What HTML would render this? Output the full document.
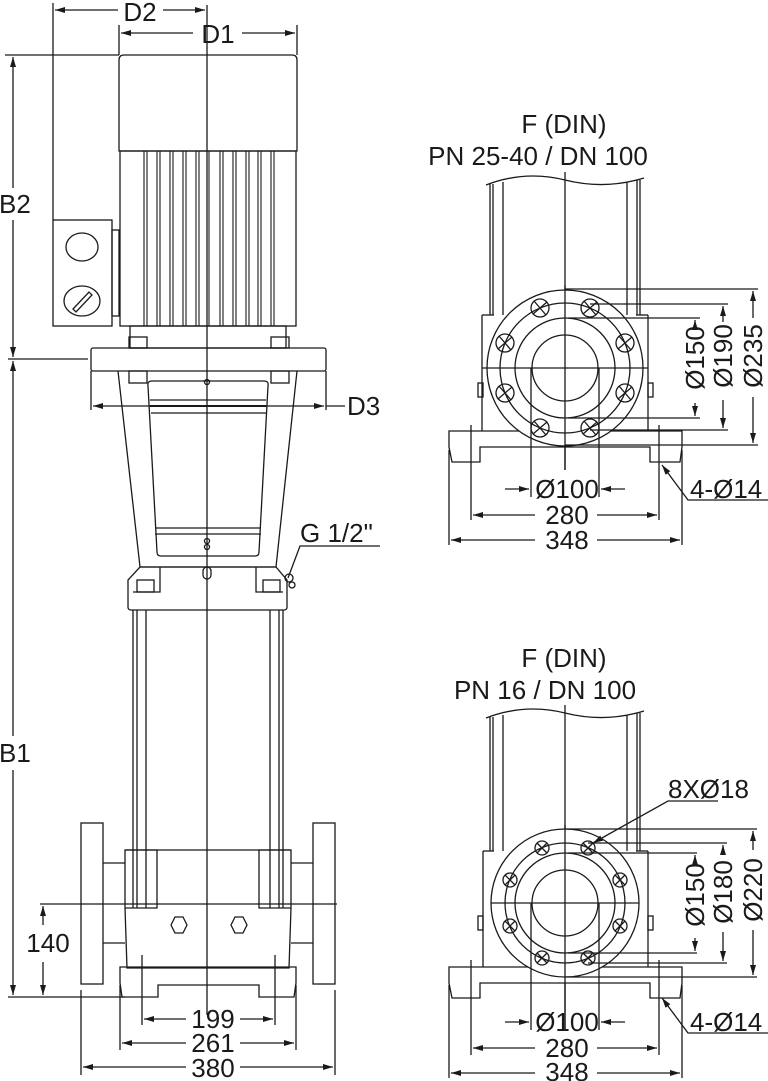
<!DOCTYPE html>
<html><head><meta charset="utf-8"><style>
html,body{margin:0;padding:0;background:#fff;}
svg{display:block;}
text{font-family:"Liberation Sans",sans-serif;fill:#1a1a1a;}
</style></head><body>
<svg width="768" height="1081" viewBox="0 0 768 1081" xmlns="http://www.w3.org/2000/svg">
<defs>
<marker id="a" viewBox="0 0 10 6" refX="10" refY="3" markerWidth="10" markerHeight="6" orient="auto-start-reverse" markerUnits="userSpaceOnUse"><path d="M0,0 L10,3 L0,6z" fill="#1a1a1a"/></marker>
</defs>
<g fill="none" stroke="#1a1a1a" stroke-width="1.3">
<line x1="207" y1="5" x2="207" y2="1015"/>
<line x1="53" y1="3" x2="53" y2="220"/>
<line x1="55" y1="10" x2="118" y2="10" marker-start="url(#a)"/>
<line x1="163" y1="10" x2="205" y2="10" marker-end="url(#a)"/>
<line x1="119" y1="25" x2="119" y2="55"/>
<line x1="297" y1="25" x2="297" y2="55"/>
<line x1="121" y1="33" x2="193" y2="33" marker-start="url(#a)"/>
<line x1="242" y1="33" x2="295" y2="33" marker-end="url(#a)"/>
<line x1="5" y1="55" x2="119" y2="55"/>
<line x1="8" y1="359" x2="88" y2="359"/>
<line x1="13" y1="57" x2="13" y2="188" marker-start="url(#a)"/>
<line x1="13" y1="220" x2="13" y2="357" marker-end="url(#a)"/>
<line x1="13" y1="361" x2="13" y2="736" marker-start="url(#a)"/>
<line x1="13" y1="770" x2="13" y2="995" marker-end="url(#a)"/>
<line x1="8" y1="997" x2="125" y2="997"/>
<path d="M119,151 L119,60 Q119,55 124,55 L292,55 Q297,55 297,60 L297,151 Z"/>
<rect x="120" y="151" width="176" height="175"/>
<g stroke-width="1.1">
<line x1="144" y1="151" x2="144" y2="326"/><line x1="147" y1="151" x2="147" y2="326"/>
<line x1="157" y1="151" x2="157" y2="326"/><line x1="160" y1="151" x2="160" y2="326"/>
<line x1="170" y1="151" x2="170" y2="326"/><line x1="173" y1="151" x2="173" y2="326"/>
<line x1="183" y1="151" x2="183" y2="326"/><line x1="186" y1="151" x2="186" y2="326"/>
<line x1="196" y1="151" x2="196" y2="326"/><line x1="199" y1="151" x2="199" y2="326"/>
<line x1="209" y1="151" x2="209" y2="326"/>
<line x1="220" y1="151" x2="220" y2="326"/><line x1="223" y1="151" x2="223" y2="326"/>
<line x1="233" y1="151" x2="233" y2="326"/><line x1="236" y1="151" x2="236" y2="326"/>
<line x1="246" y1="151" x2="246" y2="326"/><line x1="249" y1="151" x2="249" y2="326"/>
<line x1="258" y1="151" x2="258" y2="326"/><line x1="261" y1="151" x2="261" y2="326"/>
<line x1="271" y1="151" x2="271" y2="326"/><line x1="274" y1="151" x2="274" y2="326"/>
</g>
<rect x="53" y="220" width="59" height="106"/>
<rect x="112" y="230" width="7" height="86"/>
<ellipse cx="82" cy="247" rx="16" ry="14"/>
<ellipse cx="82" cy="301" rx="18" ry="15"/>
<path d="M73,309 L89,292 L92,295 L76,312 Z"/>
<rect x="130" y="326" width="156" height="22"/>
<rect x="129" y="337" width="18" height="11"/><rect x="271" y="337" width="18" height="11"/>
<rect x="91" y="348" width="235" height="23" rx="2"/>
<rect x="129" y="371" width="18" height="12"/><rect x="271" y="371" width="18" height="12"/>
<path d="M118,371 L140,567 L276,567 L297,371"/>
<path d="M152,381 L264,381 Q269,381 268,386 L259,552 Q259,556 255,556 L161,556 Q157,556 157,552 L148,386 Q147,381 152,381 Z"/>
<line x1="150" y1="400" x2="266" y2="400"/><line x1="150" y1="406" x2="266" y2="406" stroke-width="2"/><line x1="151" y1="413" x2="266" y2="413"/>
<line x1="155" y1="528" x2="261" y2="528"/><line x1="155" y1="534" x2="261" y2="534"/>
<circle cx="207" cy="382" r="2.5"/><circle cx="207" cy="541" r="2.5"/><circle cx="207" cy="547" r="2.5"/>
<line x1="91" y1="371" x2="91" y2="410"/><line x1="326" y1="371" x2="326" y2="410"/>
<line x1="93" y1="406" x2="324" y2="406" marker-start="url(#a)" marker-end="url(#a)"/>
<line x1="326" y1="406" x2="345" y2="406"/>
<path d="M140,567 L276,567 L287,580 L287,607 Q287,610 284,610 L131,610 Q128,610 128,607 L128,580 Z"/>
<path d="M160,567 L160,592 L133,592"/><path d="M256,567 L256,592 L283,592"/>
<rect x="137" y="580" width="17" height="12"/><rect x="263" y="580" width="17" height="12"/>
<rect x="203" y="567" width="8" height="12" rx="4"/>
<path d="M380,546 L300,546 L288,578"/>
<circle cx="289" cy="578" r="4"/><circle cx="292" cy="585" r="3"/>
<line x1="133" y1="610" x2="133" y2="908"/><line x1="137" y1="610" x2="137" y2="908"/><line x1="146" y1="610" x2="146" y2="908"/>
<line x1="270" y1="610" x2="270" y2="908"/><line x1="279" y1="610" x2="279" y2="908"/><line x1="283" y1="610" x2="283" y2="908"/>
<path d="M125,850 L291,850 L291,908 L289,968 L127,968 L125,908 Z"/>
<path d="M125,850 L157,850 L157,908 L125,908"/><path d="M291,850 L259,850 L259,908 L291,908"/>
<polygon points="171,925 175,917 183,917 187,925 183,933 175,933"/>
<polygon points="231,925 235,917 243,917 247,925 243,933 235,933"/>
<path d="M120,967 L296,967 L296,983 L294,997 L259,997 L259,985 L158,985 L158,997 L122,997 L120,983 Z"/>
<rect x="81" y="823" width="22" height="161"/><rect x="313" y="823" width="22" height="161"/>
<line x1="103" y1="863" x2="125" y2="863"/><line x1="103" y1="943" x2="125" y2="943"/>
<line x1="291" y1="863" x2="313" y2="863"/><line x1="291" y1="943" x2="313" y2="943"/>
<line x1="40" y1="904" x2="337" y2="904"/>
<line x1="43" y1="906" x2="43" y2="925" marker-start="url(#a)"/>
<line x1="43" y1="962" x2="43" y2="995" marker-end="url(#a)"/>
<line x1="142" y1="955" x2="142" y2="1025"/><line x1="275" y1="955" x2="275" y2="1025"/>
<line x1="120" y1="985" x2="120" y2="1050"/><line x1="296" y1="985" x2="296" y2="1050"/>
<line x1="81" y1="990" x2="81" y2="1075"/><line x1="335" y1="990" x2="335" y2="1075"/>
<line x1="144" y1="1019" x2="186" y2="1019" marker-start="url(#a)"/><line x1="240" y1="1019" x2="273" y2="1019" marker-end="url(#a)"/>
<line x1="122" y1="1043" x2="186" y2="1043" marker-start="url(#a)"/><line x1="240" y1="1043" x2="294" y2="1043" marker-end="url(#a)"/>
<line x1="83" y1="1067" x2="186" y2="1067" marker-start="url(#a)"/><line x1="240" y1="1067" x2="333" y2="1067" marker-end="url(#a)"/>

<!-- RIGHT TOP -->
<path d="M486,185 Q525,170 565,180 Q605,190 644,178"/>
<line x1="490" y1="184" x2="490" y2="315"/><line x1="493" y1="184" x2="493" y2="315"/><line x1="503" y1="182" x2="503" y2="315"/>
<line x1="627" y1="182" x2="627" y2="315"/><line x1="637" y1="180" x2="637" y2="315"/><line x1="640" y1="180" x2="640" y2="315"/>
<line x1="565" y1="172" x2="565" y2="470"/>
<line x1="482" y1="315" x2="482" y2="431"/><line x1="648" y1="315" x2="648" y2="431"/>
<line x1="482" y1="315" x2="494" y2="315"/><line x1="636" y1="315" x2="648" y2="315"/>
<line x1="482" y1="368" x2="648" y2="368"/>
<rect x="478" y="383" width="5" height="14"/><rect x="648" y="383" width="5" height="14"/>
<path d="M449,431 L682,431 L682,447 L680,462 L650,462 L650,447 L480,447 L480,462 L452,462 L449,447 Z" fill="#fff"/>
<circle cx="565" cy="368" r="78" fill="#fff"/>
<circle cx="565" cy="368" r="65"/>
<circle cx="565" cy="368" r="50"/>
<circle cx="565" cy="368" r="33"/>
<line x1="565" y1="285" x2="565" y2="470"/>
<line x1="487" y1="368" x2="643" y2="368"/>
<line x1="531" y1="368" x2="531" y2="497"/><line x1="599" y1="368" x2="599" y2="497"/>
<line x1="471" y1="425" x2="471" y2="520"/><line x1="659" y1="425" x2="659" y2="520"/>
<line x1="449" y1="450" x2="449" y2="545"/><line x1="682" y1="450" x2="682" y2="545"/>
<g>
<circle cx="540" cy="308" r="9"/><line x1="533" y1="314" x2="547" y2="302"/><line x1="534" y1="301" x2="546" y2="315"/>
<circle cx="590" cy="308" r="9"/><line x1="583" y1="314" x2="597" y2="302"/><line x1="584" y1="301" x2="596" y2="315"/>
<circle cx="505" cy="343" r="9"/><line x1="498" y1="349" x2="512" y2="337"/><line x1="499" y1="336" x2="511" y2="350"/>
<circle cx="625" cy="343" r="9"/><line x1="618" y1="349" x2="632" y2="337"/><line x1="619" y1="336" x2="631" y2="350"/>
<circle cx="505" cy="393" r="9"/><line x1="498" y1="399" x2="512" y2="387"/><line x1="499" y1="386" x2="511" y2="400"/>
<circle cx="625" cy="393" r="9"/><line x1="618" y1="399" x2="632" y2="387"/><line x1="619" y1="386" x2="631" y2="400"/>
<circle cx="540" cy="428" r="9"/><line x1="533" y1="434" x2="547" y2="422"/><line x1="534" y1="421" x2="546" y2="435"/>
<circle cx="590" cy="428" r="9"/><line x1="583" y1="434" x2="597" y2="422"/><line x1="584" y1="421" x2="596" y2="435"/>
</g>
<line x1="568" y1="318" x2="700" y2="318"/><line x1="568" y1="418" x2="700" y2="418"/>
<line x1="590" y1="304" x2="728" y2="304"/><line x1="590" y1="430" x2="728" y2="430"/>
<line x1="565" y1="289" x2="758" y2="289"/><line x1="565" y1="445" x2="758" y2="445"/>
<line x1="695" y1="328" x2="695" y2="320" marker-end="url(#a)"/><line x1="695" y1="403" x2="695" y2="416" marker-end="url(#a)"/>
<line x1="723" y1="322" x2="723" y2="306" marker-end="url(#a)"/><line x1="723" y1="400" x2="723" y2="428" marker-end="url(#a)"/>
<line x1="753" y1="318" x2="753" y2="291" marker-end="url(#a)"/><line x1="753" y1="397" x2="753" y2="443" marker-end="url(#a)"/>
<line x1="505" y1="489" x2="529" y2="489" marker-end="url(#a)"/><line x1="625" y1="489" x2="601" y2="489" marker-end="url(#a)"/>
<line x1="473" y1="515" x2="535" y2="515" marker-start="url(#a)"/><line x1="597" y1="515" x2="657" y2="515" marker-end="url(#a)"/>
<line x1="451" y1="540" x2="535" y2="540" marker-start="url(#a)"/><line x1="597" y1="540" x2="680" y2="540" marker-end="url(#a)"/>
<path d="M768,500 L688,500 L662,465" marker-end="url(#a)"/>

<!-- RIGHT BOTTOM -->
<path d="M486,718 Q525,703 565,713 Q605,723 644,711"/>
<line x1="490" y1="717" x2="490" y2="851"/><line x1="493" y1="717" x2="493" y2="851"/><line x1="503" y1="715" x2="503" y2="851"/>
<line x1="627" y1="715" x2="627" y2="851"/><line x1="637" y1="713" x2="637" y2="851"/><line x1="640" y1="713" x2="640" y2="851"/>
<line x1="565" y1="705" x2="565" y2="1030"/>
<line x1="483" y1="851" x2="483" y2="967"/><line x1="648" y1="851" x2="648" y2="967"/>
<line x1="483" y1="851" x2="494" y2="851"/><line x1="636" y1="851" x2="648" y2="851"/>
<rect x="478" y="916" width="5" height="14"/><rect x="648" y="916" width="5" height="14"/>
<path d="M449,967 L682,967 L682,983 L680,998 L650,998 L650,983 L480,983 L480,998 L452,998 L449,983 Z" fill="#fff"/>
<circle cx="565" cy="903" r="74" fill="#fff"/>
<circle cx="565" cy="903" r="60"/>
<circle cx="565" cy="903" r="50"/>
<circle cx="565" cy="903" r="33"/>
<line x1="565" y1="825" x2="565" y2="1030"/>
<line x1="491" y1="903" x2="639" y2="903"/>
<line x1="531" y1="903" x2="531" y2="1030"/><line x1="599" y1="903" x2="599" y2="1030"/>
<line x1="471" y1="960" x2="471" y2="1055"/><line x1="659" y1="960" x2="659" y2="1055"/>
<line x1="449" y1="985" x2="449" y2="1078"/><line x1="682" y1="985" x2="682" y2="1078"/>
<g>
<circle cx="542" cy="848" r="7"/><line x1="537" y1="853" x2="547" y2="843"/><line x1="537" y1="843" x2="547" y2="853"/>
<circle cx="588" cy="848" r="7"/><line x1="583" y1="853" x2="593" y2="843"/><line x1="583" y1="843" x2="593" y2="853"/>
<circle cx="510" cy="880" r="7"/><line x1="505" y1="885" x2="515" y2="875"/><line x1="505" y1="875" x2="515" y2="885"/>
<circle cx="620" cy="880" r="7"/><line x1="615" y1="885" x2="625" y2="875"/><line x1="615" y1="875" x2="625" y2="885"/>
<circle cx="510" cy="926" r="7"/><line x1="505" y1="931" x2="515" y2="921"/><line x1="505" y1="921" x2="515" y2="931"/>
<circle cx="620" cy="926" r="7"/><line x1="615" y1="931" x2="625" y2="921"/><line x1="615" y1="921" x2="625" y2="931"/>
<circle cx="542" cy="958" r="7"/><line x1="537" y1="963" x2="547" y2="953"/><line x1="537" y1="953" x2="547" y2="963"/>
<circle cx="588" cy="958" r="7"/><line x1="583" y1="963" x2="593" y2="953"/><line x1="583" y1="953" x2="593" y2="963"/>
</g>
<line x1="568" y1="853" x2="697" y2="853"/><line x1="568" y1="953" x2="697" y2="953"/>
<line x1="588" y1="843" x2="727" y2="843"/><line x1="588" y1="963" x2="727" y2="963"/>
<line x1="565" y1="829" x2="757" y2="829"/><line x1="565" y1="977" x2="757" y2="977"/>
<line x1="695" y1="862" x2="695" y2="855" marker-end="url(#a)"/><line x1="695" y1="938" x2="695" y2="951" marker-end="url(#a)"/>
<line x1="723" y1="855" x2="723" y2="845" marker-end="url(#a)"/><line x1="723" y1="932" x2="723" y2="961" marker-end="url(#a)"/>
<line x1="753" y1="850" x2="753" y2="831" marker-end="url(#a)"/><line x1="753" y1="930" x2="753" y2="975" marker-end="url(#a)"/>
<path d="M718,801 L668,801 L593,843" marker-end="url(#a)"/>
<line x1="505" y1="1022" x2="529" y2="1022" marker-end="url(#a)"/><line x1="625" y1="1022" x2="601" y2="1022" marker-end="url(#a)"/>
<line x1="473" y1="1048" x2="535" y2="1048" marker-start="url(#a)"/><line x1="597" y1="1048" x2="657" y2="1048" marker-end="url(#a)"/>
<line x1="451" y1="1073" x2="535" y2="1073" marker-start="url(#a)"/><line x1="597" y1="1073" x2="680" y2="1073" marker-end="url(#a)"/>
<path d="M768,1033 L688,1033 L662,998" marker-end="url(#a)"/>
</g>

<g font-size="26">
<text x="140" y="21" text-anchor="middle">D2</text>
<text x="218" y="43" text-anchor="middle">D1</text>
<text x="-1" y="213">B2</text>
<text x="-1" y="762">B1</text>
<text x="347" y="415">D3</text>
<text x="300" y="542">G 1/2"</text>
<text x="48" y="952" text-anchor="middle">140</text>
<text x="213" y="1028" text-anchor="middle">199</text>
<text x="213" y="1052" text-anchor="middle">261</text>
<text x="213" y="1077" text-anchor="middle">380</text>
<text x="564" y="133" text-anchor="middle">F (DIN)</text>
<text x="538" y="165" text-anchor="middle">PN 25-40 / DN 100</text>
<text x="567" y="498" text-anchor="middle">Ø100</text>
<text x="567" y="524" text-anchor="middle">280</text>
<text x="567" y="549" text-anchor="middle">348</text>
<text x="690" y="498">4-Ø14</text>
<text transform="translate(704,358) rotate(-90)" text-anchor="middle">Ø150</text>
<text transform="translate(732,356) rotate(-90)" text-anchor="middle">Ø190</text>
<text transform="translate(762,356) rotate(-90)" text-anchor="middle">Ø235</text>
<text x="564" y="667" text-anchor="middle">F (DIN)</text>
<text x="545" y="699" text-anchor="middle">PN 16 / DN 100</text>
<text x="668" y="798">8XØ18</text>
<text transform="translate(704,895) rotate(-90)" text-anchor="middle">Ø150</text>
<text transform="translate(732,892) rotate(-90)" text-anchor="middle">Ø180</text>
<text transform="translate(762,890) rotate(-90)" text-anchor="middle">Ø220</text>
<text x="567" y="1031" text-anchor="middle">Ø100</text>
<text x="567" y="1057" text-anchor="middle">280</text>
<text x="567" y="1081" text-anchor="middle">348</text>
<text x="690" y="1031">4-Ø14</text>
</g>
</svg>
</body></html>
